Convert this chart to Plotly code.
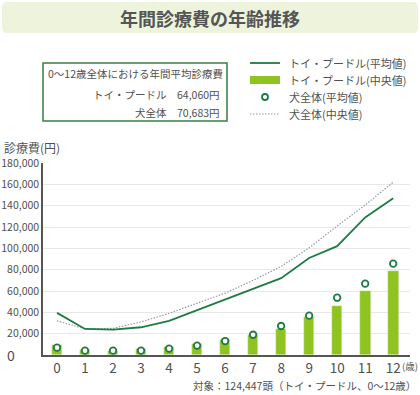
import plotly.graph_objects as go

ages = list(range(13))
age_labels = [str(a) for a in ages]
poodle_mean = [39500, 24400, 23800, 26000, 32000, 42000, 51500, 62000, 72000, 91000, 102000, 129000, 147000]
poodle_median = [9500, 4700, 4000, 5300, 7200, 10000, 14000, 18700, 24000, 35300, 46000, 60300, 78500]
dog_mean = [6900, 4100, 4100, 4100, 6000, 8800, 13100, 19000, 27200, 36900, 53700, 66900, 85600]
dog_median = [32000, 24500, 25000, 31000, 39000, 48500, 58000, 70000, 83000, 100500, 121000, 140600, 162000]
y_ticks = [0, 20000, 40000, 60000, 80000, 100000, 120000, 140000, 160000, 180000]

W, H = 420, 395
L, R, T, B = 43, 10, 163, 40
PW, PH = W - L - R, H - T - B

def px(x):
    return (x - L) / PW

def py(y):
    return (H - B - y) / PH

JP = "Noto Sans CJK JP"
DG = "#1e7b45"
BAR = "#8fc31f"
GRAY = "#9a9a9a"
TXT = "#505050"
DOT = "1.5px,1.5px"

fig = go.Figure()
fig.add_trace(go.Bar(x=ages, y=poodle_median, marker_color=BAR, width=0.38,
                     name="トイ・プードル(中央値)", showlegend=False))
fig.add_trace(go.Scatter(x=ages, y=dog_median, mode="lines",
                         line=dict(color=GRAY, width=1.2, dash=DOT),
                         name="犬全体(中央値)", showlegend=False))
fig.add_trace(go.Scatter(x=ages, y=poodle_mean, mode="lines",
                         line=dict(color=DG, width=1.8),
                         name="トイ・プードル(平均値)", showlegend=False))
fig.add_trace(go.Scatter(x=ages, y=dog_mean, mode="markers",
                         marker=dict(color="white", size=6.5, line=dict(color=DG, width=1.8)),
                         name="犬全体(平均値)", showlegend=False))

shapes = []
annotations = []

# Title banner (rounded)
x0, x1, y0, y1, r = 2, 418, 2, 33, 5
path = (f"M {px(x0+r)} {py(y0)} L {px(x1-r)} {py(y0)} Q {px(x1)} {py(y0)} {px(x1)} {py(y0+r)} "
        f"L {px(x1)} {py(y1-r)} Q {px(x1)} {py(y1)} {px(x1-r)} {py(y1)} "
        f"L {px(x0+r)} {py(y1)} Q {px(x0)} {py(y1)} {px(x0)} {py(y1-r)} "
        f"L {px(x0)} {py(y0+r)} Q {px(x0)} {py(y0)} {px(x0+r)} {py(y0)} Z")
shapes.append(dict(type="path", xref="paper", yref="paper", path=path,
                   fillcolor="#eef3dc", line=dict(width=0), layer="below"))
annotations.append(dict(xref="paper", yref="paper", x=px(210), y=py(18), text="<b>年間診療費の年齢推移</b>",
                        showarrow=False, font=dict(family=JP, size=18, color="#555555"),
                        xanchor="center", yanchor="middle"))

# Summary box
shapes.append(dict(type="rect", xref="paper", yref="paper", x0=px(43), x1=px(227), y0=py(63), y1=py(121),
                   line=dict(color="#3a7d44", width=1.5), fillcolor="white"))
annotations.append(dict(xref="paper", yref="paper", x=px(46), y=py(74), text="0～12歳全体における年間平均診療費",
                        showarrow=False, font=dict(family=JP, size=10.5, color=TXT), xanchor="left", yanchor="middle"))
annotations.append(dict(xref="paper", yref="paper", x=px(222), y=py(94), text="トイ・プードル　64,060円",
                        showarrow=False, font=dict(family=JP, size=10.5, color=TXT), xanchor="right", yanchor="middle"))
annotations.append(dict(xref="paper", yref="paper", x=px(222), y=py(113), text="犬全体　70,683円",
                        showarrow=False, font=dict(family=JP, size=10.5, color=TXT), xanchor="right", yanchor="middle"))

# Legend (manual)
leg_y = [63, 80, 97, 114]
leg_txt = ["トイ・プードル(平均値)", "トイ・プードル(中央値)", "犬全体(平均値)", "犬全体(中央値)"]
shapes.append(dict(type="line", xref="paper", yref="paper", x0=px(250), x1=px(280), y0=py(leg_y[0]), y1=py(leg_y[0]),
                   line=dict(color=DG, width=1.8)))
shapes.append(dict(type="rect", xref="paper", yref="paper", x0=px(250), x1=px(280), y0=py(leg_y[1]-4), y1=py(leg_y[1]+4),
                   line=dict(width=0), fillcolor=BAR))
shapes.append(dict(type="circle", xref="paper", yref="paper", x0=px(262), x1=px(268), y0=py(leg_y[2]-3), y1=py(leg_y[2]+3),
                   line=dict(color=DG, width=1.8), fillcolor="white"))
shapes.append(dict(type="line", xref="paper", yref="paper", x0=px(250), x1=px(280), y0=py(leg_y[3]), y1=py(leg_y[3]),
                   line=dict(color=GRAY, width=1.2, dash=DOT)))
for yy, t in zip(leg_y, leg_txt):
    annotations.append(dict(xref="paper", yref="paper", x=px(287), y=py(yy), text=t, showarrow=False,
                            font=dict(family=JP, size=11, color=TXT), xanchor="left", yanchor="middle"))

# Axis title, unit, footnote, zero label
annotations.append(dict(xref="paper", yref="paper", x=px(2), y=py(147), text="診療費(円)", showarrow=False,
                        font=dict(family=JP, size=12, color=TXT), xanchor="left", yanchor="middle"))
annotations.append(dict(xref="paper", yref="paper", x=px(410), y=py(366), text="(歳)", showarrow=False,
                        font=dict(family=JP, size=9.5, color=TXT), xanchor="center", yanchor="middle"))
annotations.append(dict(xref="paper", yref="paper", x=px(418), y=py(385), text="対象：124,447頭（トイ・プードル、0～12歳）",
                        showarrow=False, font=dict(family=JP, size=10.5, color=TXT), xanchor="right", yanchor="middle"))
annotations.append(dict(xref="paper", yref="paper", x=px(11), y=py(355), text="0", showarrow=False,
                        font=dict(family=JP, size=14, color=TXT), xanchor="center", yanchor="middle"))

fig.update_layout(
    width=W, height=H, margin=dict(l=L, r=R, t=T, b=B, pad=0),
    paper_bgcolor="white", plot_bgcolor="white",
    shapes=shapes, annotations=annotations, showlegend=False, bargap=0,
    xaxis=dict(range=[-0.5, 12.6], tickvals=ages, ticktext=age_labels, showgrid=False, automargin=False,
               showline=True, linecolor="#555555", linewidth=1.5, ticks="", zeroline=False,
               tickfont=dict(family=JP, size=13.5, color=TXT), fixedrange=True),
    yaxis=dict(range=[0, 180000], tickvals=y_ticks, automargin=False,
               ticktext=[""] + [f"{v:,}" for v in y_ticks[1:]],
               showgrid=True, gridcolor="#e8e8e8", gridwidth=1.2, showline=True, linecolor="#555555",
               linewidth=1.5, ticks="", zeroline=False,
               tickfont=dict(family=JP, size=10.5, color=TXT), fixedrange=True),
)

fig.write_html("out.html", config={"displayModeBar": False},
               post_script="document.body.style.margin='0';document.body.style.overflow='hidden';")
